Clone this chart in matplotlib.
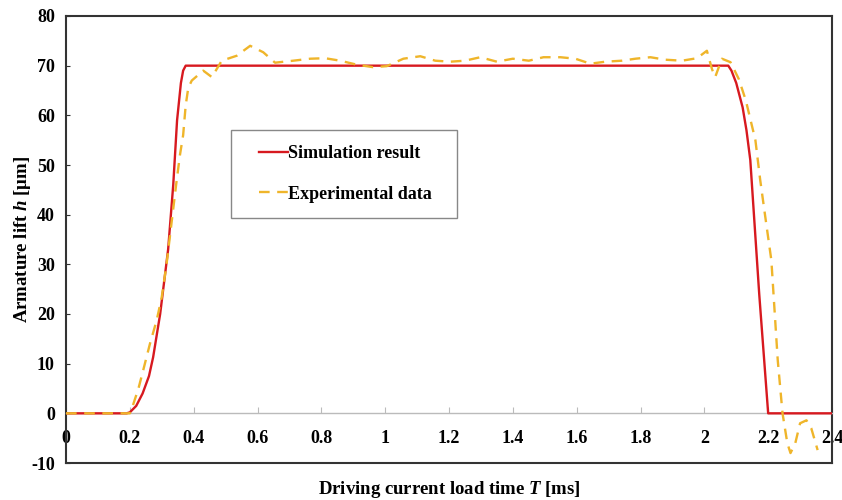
import matplotlib
matplotlib.use("Agg")
import matplotlib.pyplot as plt
from matplotlib.legend_handler import HandlerLine2D

# Simulation result (red line)
sim_t = [0.0, 0.19, 0.20, 0.22, 0.24, 0.26, 0.273, 0.295, 0.32, 0.336, 0.348, 0.36, 0.367, 0.375,
         2.075, 2.085, 2.10, 2.12, 2.132, 2.144, 2.172, 2.20, 2.40]
sim_h = [0, 0, 0.2, 1.5, 4, 7.5, 11.3, 20, 33, 46, 59, 66.5, 69, 70,
         70, 69, 66.5, 61.6, 57, 51, 24, 0, 0]

# Experimental data (yellow dashed)
exp_t = [0.0, 0.20, 0.206, 0.227, 0.242, 0.263, 0.284, 0.30, 0.315, 0.33, 0.345, 0.357, 0.367,
         0.375, 0.383, 0.394, 0.43, 0.457, 0.488, 0.535, 0.577, 0.618, 0.655, 0.712, 0.765,
         0.812, 0.859, 0.911, 0.962, 1.005, 1.057, 1.11, 1.157, 1.204, 1.25, 1.298, 1.35,
         1.40, 1.45, 1.496, 1.549, 1.596, 1.643, 1.69, 1.742, 1.784, 1.831, 1.878, 1.93,
         1.977, 2.008, 2.024, 2.034, 2.055, 2.082, 2.108, 2.13, 2.16, 2.175, 2.19, 2.21,
         2.23, 2.245, 2.26, 2.27, 2.285, 2.30, 2.32, 2.335, 2.355]
exp_h = [0, 0, 0.9, 5, 8.7, 14, 18.7, 23.4, 30, 38, 46, 52, 56,
         62, 65.5, 67, 69, 67.7, 71, 72, 74, 72.7, 70.6, 71, 71.4,
         71.5, 71, 70.2, 69.7, 69.9, 71.4, 71.9, 71, 70.8, 71, 71.7, 70.8,
         71.4, 71, 71.7, 71.7, 71.4, 70.4, 70.8, 71, 71.4, 71.7, 71.2, 71,
         71.5, 73, 69.3, 67.7, 71.4, 70.7, 67.3, 63, 55, 47, 40, 30.8,
         10.7, 0, -6, -8, -6, -2, -1.4, -3, -7.4]

x_ticks = [0, 0.2, 0.4, 0.6, 0.8, 1, 1.2, 1.4, 1.6, 1.8, 2, 2.2, 2.4]
x_tick_labels = ["0", "0.2", "0.4", "0.6", "0.8", "1", "1.2", "1.4", "1.6", "1.8", "2", "2.2", "2.4"]
y_ticks = [-10, 0, 10, 20, 30, 40, 50, 60, 70, 80]

plt.rcParams['font.family'] = ['Liberation Serif', 'DejaVu Serif']
plt.rcParams['font.weight'] = 'bold'
plt.rcParams['axes.unicode_minus'] = False
plt.rcParams['mathtext.fontset'] = 'custom'
plt.rcParams['mathtext.it'] = 'Liberation Serif:italic:bold'
plt.rcParams['mathtext.rm'] = 'Liberation Serif:bold'

fig = plt.figure(figsize=(8.42, 5.0), dpi=100)
ax = fig.add_axes([66 / 842, 1 - 463 / 500, 766 / 842, 447 / 500])

red = '#d7191f'
yellow = '#efb52a'

l1, = ax.plot(sim_t, sim_h, color=red, lw=1.7, label='Simulation result', zorder=3)
l2, = ax.plot(exp_t, exp_h, color=yellow, lw=1.7, ls=(0, (4.5, 3.2)), label='Experimental data', zorder=4)

ax.set_xlim(0, 2.4)
ax.set_ylim(-10, 80)

# x axis drawn through y = 0, outer frame kept around the plot
frame_col = '#333333'
for s in ['left', 'right', 'top']:
    ax.spines[s].set_color(frame_col)
    ax.spines[s].set_linewidth(1.5)
ax.spines['bottom'].set_position(('data', 0))
ax.spines['bottom'].set_color('#bbbbbb')
ax.spines['bottom'].set_linewidth(1.0)
ax.axhline(-10, color=frame_col, lw=1.5, clip_on=False, zorder=5)

ax.set_xticks(x_ticks)
ax.set_xticklabels(x_tick_labels)
ax.set_yticks(y_ticks)
ax.tick_params(axis='x', direction='in', length=4, color='#bbbbbb', pad=12, labelsize=13)
ax.tick_params(axis='y', direction='in', length=3, color=frame_col, pad=8, labelsize=13)

ax.set_xlabel('Driving current load time $T$ [ms]', fontsize=13.5, fontweight='bold')
ax.xaxis.set_label_coords(0.5, -0.036)
ax.set_ylabel('Armature lift $h$ [μm]', fontsize=13.5, fontweight='bold')
ax.yaxis.set_label_coords(-0.043, 0.5)

hm = {l1: HandlerLine2D(xpad=0.74), l2: HandlerLine2D(xpad=0.74)}
leg = ax.legend(loc='upper left', bbox_to_anchor=(0.215, 0.555, 0.295, 0.19), mode='expand',
                fancybox=False, edgecolor='#888888', framealpha=1, prop={'size': 13, 'weight': 'bold'},
                handlelength=2.3, handletextpad=0.05, labelspacing=1.3, borderpad=0.85,
                borderaxespad=0, handler_map=hm)
leg.get_frame().set_linewidth(1.0)

fig.savefig('out.png', dpi=100)
